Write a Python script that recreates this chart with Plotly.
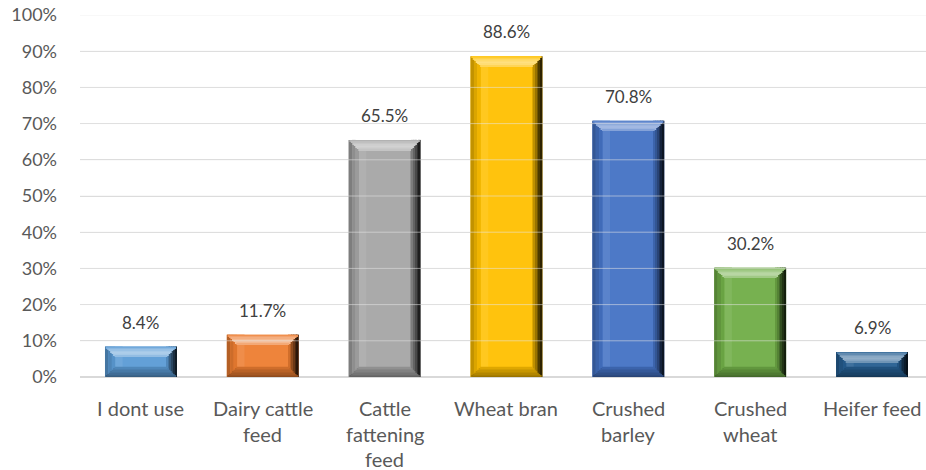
import plotly.graph_objects as go

# Share of respondents using each feed type
categories = ["I dont use", "Dairy cattle feed", "Cattle fattening feed", "Wheat bran",
              "Crushed barley", "Crushed wheat", "Heifer feed"]
label_lines = [["I dont use"], ["Dairy cattle", "feed"], ["Cattle", "fattening", "feed"],
               ["Wheat bran"], ["Crushed", "barley"], ["Crushed", "wheat"], ["Heifer feed"]]
values = [8.4, 11.7, 65.5, 88.6, 70.8, 30.2, 6.9]
y_ticks = [0, 10, 20, 30, 40, 50, 60, 70, 80, 90, 100]
y_tick_labels = [f"{t}%" for t in y_ticks]

face_colors = ["#5B9BD5", "#ED7D31", "#A5A5A5", "#FFC000", "#4472C4", "#70AD47", "#255E91"]

FONT = "Lato"
TEXT = "#595959"
GRID = "#D9D9D9"

BAR_W = 0.59      # bar width in category units
BEV_X = 0.085     # bevel width (category units)
BEV_Y = 2.8       # bevel height (percentage points)
STEPS = 7         # staircase steps approximating the mitred corners


def mix(hex_color, target, t):
    c = [int(hex_color[i:i + 2], 16) for i in (1, 3, 5)]
    g = [int(target[i:i + 2], 16) for i in (1, 3, 5)]
    r = [round(a + (b - a) * t) for a, b in zip(c, g)]
    return "#%02X%02X%02X" % tuple(r)


fig = go.Figure()


def add_bar(y, base, width, offset, colors):
    fig.add_trace(go.Bar(
        x=categories, y=y, base=base, width=width, offset=offset,
        marker=dict(color=colors, line=dict(width=0)),
        hoverinfo="skip", showlegend=False,
    ))


zeros = [0] * len(values)

# bar face
add_bar(values, zeros, BAR_W, -BAR_W / 2, [mix(c, "#FFFFFF", 0.05) for c in face_colors])

# left side of the bevel
left_shades = [0.24, 0.14, 0.06]
for i, t in enumerate(left_shades):
    w = BEV_X / len(left_shades)
    add_bar(values, zeros, w, -BAR_W / 2 + i * w,
            [mix(c, "#000000", t) for c in face_colors])

# soft highlight just inside the left edge
add_bar(values, zeros, 0.06, -BAR_W / 2 + BEV_X,
        [mix(c, "#FFFFFF", 0.12) for c in face_colors])

# right side of the bevel, darkening towards the edge
right_shades = [0.12, 0.25, 0.4, 0.55, 0.7, 0.82]
for i, t in enumerate(right_shades):
    w = BEV_X / len(right_shades)
    add_bar(values, zeros, w, BAR_W / 2 - BEV_X + i * w,
            [mix(c, "#000000", t) for c in face_colors])

# top and bottom faces, drawn as stepped trapezoids
s = BEV_Y / STEPS
top_tints = [0.14, 0.28, 0.38, 0.46, 0.50, 0.46, 0.34]
bottom_shades = [0.40, 0.35, 0.30, 0.26, 0.22, 0.18, 0.13]
for k in range(STEPS):
    inset = (k + 0.5) * BEV_X / STEPS
    w = BAR_W - 2 * inset
    add_bar([s] * len(values), [v - (k + 1) * s for v in values], w, -w / 2,
            [mix(c, "#FFFFFF", top_tints[k]) for c in face_colors])
    add_bar([s] * len(values), [k * s for _ in values], w, -w / 2,
            [mix(c, "#000000", bottom_shades[k]) for c in face_colors])

# value labels above the bars
for cat, v in zip(categories, values):
    fig.add_annotation(x=cat, y=v, text=f"{v}%", showarrow=False,
                       yanchor="bottom", yshift=12,
                       font=dict(family=FONT, size=17, color="#404040"))

# category labels, one annotation per line
LINE_H = 25.5
for cat, lines in zip(categories, label_lines):
    for j, line in enumerate(lines):
        fig.add_annotation(x=cat, y=0, yref="paper", text=line, showarrow=False,
                           yanchor="middle", yshift=-31 - j * LINE_H, borderpad=0,
                           font=dict(family=FONT, size=20, color=TEXT))

# faint grid lines showing through the bars
for t in y_ticks[1:]:
    fig.add_shape(type="line", xref="paper", yref="y", x0=0, x1=1, y0=t, y1=t,
                  line=dict(color="rgba(230,230,230,0.55)", width=1), layer="above")

fig.update_layout(
    width=926, height=470,
    margin=dict(l=80, r=0, t=15, b=93),
    barmode="overlay",
    plot_bgcolor="white", paper_bgcolor="white",
    font=dict(family=FONT, size=17, color=TEXT),
    xaxis=dict(range=[-0.5, 6.443], showticklabels=False, showgrid=False,
               zeroline=False, showline=False, ticks=""),
    yaxis=dict(range=[0, 100], tickvals=y_ticks, ticktext=y_tick_labels,
               showgrid=True, gridcolor=GRID, gridwidth=1,
               zeroline=True, zerolinecolor=GRID, zerolinewidth=1.5,
               ticks="", ticklabelstandoff=22,
               tickfont=dict(family=FONT, size=18, color=TEXT)),
)

fig.write_html("out.html")
